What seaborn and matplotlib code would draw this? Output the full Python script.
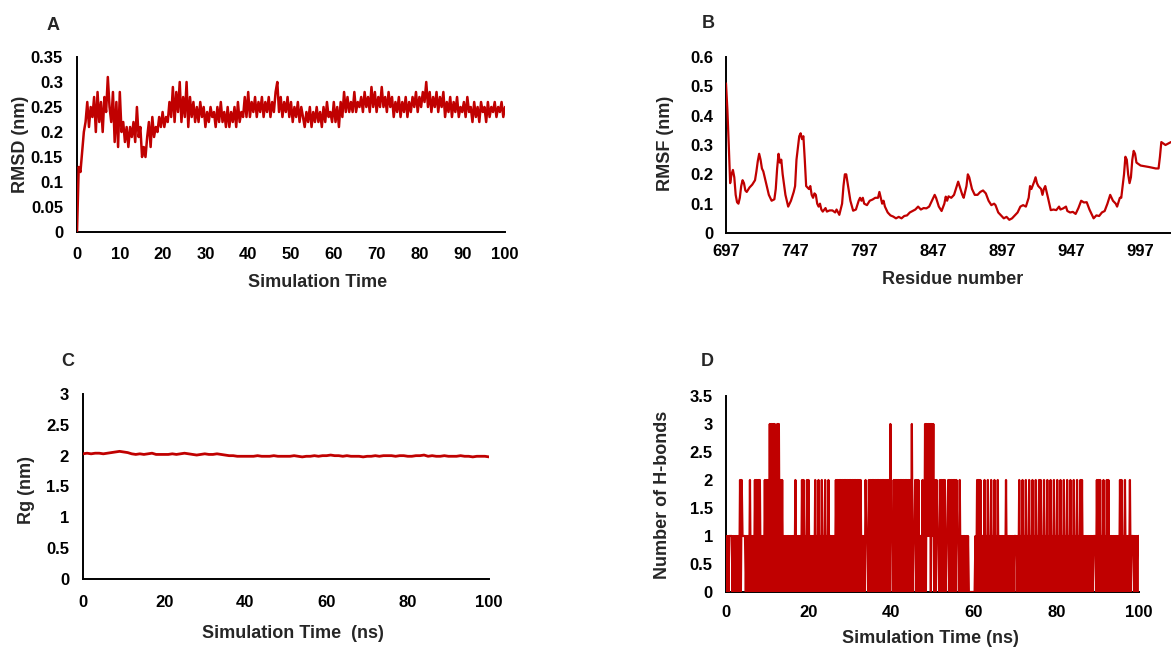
import numpy as np
import matplotlib
matplotlib.use("Agg")
import matplotlib.pyplot as plt
import seaborn as sns

RED = "#C00000"

# --- A: backbone RMSD (nm), one value every 0.4 ns from 0 to 100 ns
rmsd_step = 0.4
rmsd = [
    0.0, 0.13, 0.12, 0.16, 0.2, 0.22, 0.26, 0.21, 0.25, 0.23,
    0.27, 0.2, 0.28, 0.22, 0.26, 0.2, 0.27, 0.24, 0.31, 0.25,
    0.22, 0.28, 0.18, 0.26, 0.17, 0.28, 0.2, 0.22, 0.18, 0.21,
    0.17, 0.21, 0.19, 0.22, 0.18, 0.25, 0.19, 0.21, 0.15, 0.17,
    0.15, 0.19, 0.22, 0.17, 0.23, 0.19, 0.21, 0.2, 0.23, 0.21,
    0.24, 0.21, 0.23, 0.22, 0.26, 0.23, 0.29, 0.22, 0.28, 0.24,
    0.3, 0.22, 0.27, 0.23, 0.3, 0.21, 0.27, 0.23, 0.26, 0.22,
    0.25, 0.22, 0.26, 0.23, 0.25, 0.21, 0.24, 0.22, 0.25, 0.23,
    0.24, 0.21, 0.25, 0.22, 0.26, 0.22, 0.24, 0.21, 0.25, 0.21,
    0.24, 0.22, 0.25, 0.21, 0.26, 0.22, 0.24, 0.23, 0.27, 0.23,
    0.28, 0.23, 0.26, 0.24, 0.27, 0.23, 0.26, 0.24, 0.27, 0.23,
    0.26, 0.24, 0.27, 0.23, 0.26, 0.24, 0.28, 0.3, 0.24, 0.27,
    0.23, 0.26, 0.24, 0.27, 0.23, 0.26, 0.22, 0.25, 0.23, 0.26,
    0.22, 0.25, 0.23, 0.21, 0.24, 0.22, 0.25, 0.21, 0.24, 0.22,
    0.25, 0.22, 0.24, 0.21, 0.25, 0.22, 0.26, 0.23, 0.24, 0.22,
    0.26, 0.22, 0.25, 0.21, 0.26, 0.23, 0.28, 0.24, 0.27, 0.24,
    0.26, 0.24, 0.28, 0.24, 0.26, 0.25, 0.27, 0.24, 0.28, 0.25,
    0.27, 0.24, 0.29, 0.25, 0.28, 0.24, 0.27, 0.25, 0.29, 0.25,
    0.27, 0.24, 0.28, 0.25, 0.27, 0.23, 0.26, 0.24, 0.27, 0.23,
    0.26, 0.24, 0.27, 0.23, 0.26, 0.24, 0.27, 0.25, 0.28, 0.24,
    0.27, 0.25, 0.28, 0.26, 0.3, 0.25, 0.28, 0.24, 0.27, 0.25,
    0.28, 0.24, 0.27, 0.25, 0.28, 0.23, 0.26, 0.24, 0.27, 0.23,
    0.26, 0.24, 0.27, 0.23, 0.25, 0.24, 0.26, 0.23, 0.27, 0.24,
    0.25, 0.22, 0.26, 0.23, 0.25, 0.22, 0.26, 0.24, 0.25, 0.22,
    0.26, 0.23, 0.25, 0.24, 0.26, 0.23, 0.25, 0.24, 0.26, 0.23, 0.25,
]

# --- B: per-residue RMSF (nm)
residues = [
    697, 698, 699, 700, 701, 702, 703, 704, 705, 706,
    707, 708, 709, 710, 711, 712, 714, 716, 718, 719,
    720, 721, 722, 723, 724, 726, 728, 730, 732, 733,
    734, 735, 736, 737, 738, 740, 742, 744, 746, 747,
    748, 749, 750, 751, 752, 753, 754, 755, 757, 758,
    759, 760, 761, 762, 763, 764, 765, 766, 767, 769,
    770, 772, 774, 776, 777, 779, 781, 782, 783, 784,
    785, 787, 789, 791, 793, 794, 795, 796, 797, 799,
    801, 803, 805, 807, 808, 809, 810, 811, 812, 814,
    816, 818, 820, 822, 824, 826, 828, 830, 832, 834,
    836, 838, 840, 842, 844, 846, 848, 849, 851, 853,
    855, 856, 857, 858, 860, 862, 864, 865, 866, 868,
    869, 871, 872, 873, 875, 877, 879, 881, 883, 885,
    887, 889, 891, 892, 894, 896, 898, 900, 902, 904,
    906, 908, 910, 912, 914, 916, 917, 918, 920, 921,
    922, 923, 925, 926, 927, 928, 930, 932, 934, 936,
    938, 939, 941, 943, 944, 946, 948, 950, 952, 954,
    956, 958, 960, 962, 963, 965, 967, 969, 971, 973,
    975, 976, 977, 979, 980, 982, 983, 985, 986, 987,
    988, 989, 990, 991, 992, 993, 994, 997, 1003, 1008,
    1010, 1011, 1012, 1015, 1019,
]
rmsf = [
    0.51, 0.42, 0.30, 0.17, 0.20, 0.215, 0.19, 0.13, 0.105, 0.10,
    0.12, 0.16, 0.18, 0.17, 0.145, 0.14, 0.155, 0.165, 0.18, 0.21,
    0.245, 0.27, 0.25, 0.22, 0.21, 0.17, 0.13, 0.11, 0.115, 0.15,
    0.22, 0.27, 0.24, 0.25, 0.20, 0.13, 0.09, 0.11, 0.14, 0.16,
    0.25, 0.29, 0.33, 0.34, 0.32, 0.33, 0.25, 0.16, 0.15, 0.16,
    0.13, 0.12, 0.135, 0.13, 0.10, 0.09, 0.10, 0.08, 0.073, 0.085,
    0.073, 0.077, 0.077, 0.07, 0.08, 0.062, 0.10, 0.16, 0.20, 0.20,
    0.17, 0.11, 0.076, 0.08, 0.11, 0.12, 0.11, 0.12, 0.10, 0.095,
    0.11, 0.114, 0.12, 0.12, 0.14, 0.12, 0.10, 0.11, 0.09, 0.07,
    0.06, 0.056, 0.05, 0.055, 0.05, 0.058, 0.06, 0.07, 0.075, 0.08,
    0.09, 0.08, 0.085, 0.084, 0.09, 0.11, 0.13, 0.12, 0.09, 0.075,
    0.10, 0.124, 0.11, 0.125, 0.12, 0.13, 0.16, 0.175, 0.16, 0.13,
    0.12, 0.16, 0.20, 0.19, 0.15, 0.13, 0.13, 0.14, 0.145, 0.135,
    0.11, 0.095, 0.10, 0.095, 0.07, 0.06, 0.05, 0.055, 0.045, 0.05,
    0.06, 0.07, 0.09, 0.095, 0.09, 0.12, 0.16, 0.15, 0.175, 0.19,
    0.17, 0.16, 0.15, 0.13, 0.15, 0.16, 0.12, 0.078, 0.08, 0.078,
    0.09, 0.08, 0.084, 0.09, 0.075, 0.07, 0.072, 0.065, 0.085, 0.11,
    0.104, 0.105, 0.08, 0.06, 0.05, 0.06, 0.058, 0.07, 0.075, 0.10,
    0.13, 0.12, 0.11, 0.10, 0.09, 0.12, 0.12, 0.20, 0.26, 0.25,
    0.20, 0.17, 0.19, 0.25, 0.28, 0.27, 0.24, 0.23, 0.225, 0.22,
    0.22, 0.26, 0.31, 0.30, 0.31,
]

# --- C: radius of gyration (nm), one value per ns
rg = [
    2.03, 2.04, 2.03, 2.04, 2.04, 2.03, 2.04, 2.05, 2.06, 2.07, 2.06,
    2.05, 2.03, 2.02, 2.03, 2.02, 2.03, 2.04, 2.02, 2.02, 2.02,
    2.02, 2.03, 2.02, 2.03, 2.04, 2.03, 2.02, 2.01, 2.02, 2.03,
    2.02, 2.02, 2.03, 2.02, 2.01, 2.0, 2.0, 1.99, 1.99, 1.99,
    1.99, 1.99, 2.0, 1.99, 1.99, 1.99, 2.0, 1.99, 1.99, 1.99,
    1.99, 2.0, 1.99, 1.98, 1.99, 1.99, 2.0, 1.99, 2.0, 2.0,
    2.01, 2.0, 2.0, 1.99, 2.0, 1.99, 1.99, 1.99, 1.98, 1.99,
    1.99, 2.0, 1.99, 2.0, 2.0, 2.0, 1.99, 2.0, 2.0, 1.99,
    1.99, 2.0, 2.0, 2.01, 1.99, 2.0, 1.99, 1.99, 2.0, 1.99,
    1.99, 1.99, 2.0, 1.99, 1.99, 1.98, 1.99, 1.99, 1.99, 1.98,
]

# --- D: number of H-bonds, one digit every 0.2 ns (10 per 2 ns block)
hbond_step = 0.2
hbond_blocks = [
    "1010111101", "0101010202", "1111010102", "0101020202", "0201010202",
    "0203030303", "0230302020", "1010101010", "1010201010", "1020201020",
    "2010101020", "1020102010", "2010201101", "0102020202", "0202020202",
    "0202020202", "0202010102", "1102020202", "0202020202", "0202020203",
    "1102020202", "0202020202", "0202030112", "0202011020", "0303131303",
    "1302021102", "0202020112", "0202020202", "1102010101", "0101000000",
    "0010202020", "1102010201", "0201020102", "0101010102", "0101010101",
    "1101020102", "0102010201", "0201020102", "0201020102", "0102010201",
    "0201020102", "0102010201", "0201020102", "0201010101", "0101011102",
    "0202010201", "0202010101", "0101010202", "0102010102", "0111010101",
    "1",
]
hbonds = [int(c) for c in "".join(hbond_blocks)]

rmsd_ticks = [0, 0.05, 0.1, 0.15, 0.2, 0.25, 0.3, 0.35]
rmsf_ticks = [0, 0.1, 0.2, 0.3, 0.4, 0.5, 0.6]
rg_ticks = [0, 0.5, 1, 1.5, 2, 2.5, 3]
hb_ticks = [0, 0.5, 1, 1.5, 2, 2.5, 3, 3.5]
time_ticks_10 = [0, 10, 20, 30, 40, 50, 60, 70, 80, 90, 100]
time_ticks_20 = [0, 20, 40, 60, 80, 100]
residue_ticks = [697, 747, 797, 847, 897, 947, 997]

sns.set_style("white")
plt.rcParams["font.family"] = ["Liberation Sans", "DejaVu Sans"]
plt.rcParams["font.weight"] = "bold"
plt.rcParams["axes.labelweight"] = "bold"

W, H = 1171, 647
fig = plt.figure(figsize=(W / 100, H / 100), dpi=100)


def box(left, top, right, bottom):
    return [left / W, 1 - bottom / H, (right - left) / W, (bottom - top) / H]


def style(ax, xticks, yticks, xpad, ypad):
    ax.set_xticks(xticks)
    ax.set_yticks(yticks)
    ax.set_yticklabels([f"{v:g}" for v in yticks])
    ax.tick_params(axis="both", length=0, labelsize=12, colors="black")
    ax.tick_params(axis="x", pad=xpad)
    ax.tick_params(axis="y", pad=ypad)
    for side in ("top", "right"):
        ax.spines[side].set_visible(False)
    for side in ("left", "bottom"):
        ax.spines[side].set_color("black")
        ax.spines[side].set_linewidth(1.4)
    ax.grid(False)


# Panel A
axA = fig.add_axes(box(77, 57, 505, 232))
t_rmsd = np.arange(len(rmsd)) * rmsd_step
sns.lineplot(x=t_rmsd, y=rmsd, ax=axA, color=RED, linewidth=1.8, estimator=None)
axA.set_xlim(0, 100)
axA.set_ylim(0, 0.35)
style(axA, time_ticks_10, rmsd_ticks, 10.5, 10)
axA.set_xlabel("Simulation Time", fontsize=13, va="center")
axA.set_ylabel("RMSD (nm)", fontsize=13, va="center")
axA.xaxis.set_label_coords(0.561, -0.286)
axA.yaxis.set_label_coords(-0.133, 0.5)

# Panel B
axB = fig.add_axes(box(726, 57, 1171, 233))
sns.lineplot(x=residues, y=rmsf, ax=axB, color=RED, linewidth=1.6, estimator=None)
axB.set_xlim(697, 1019)
axB.set_ylim(0, 0.6)
style(axB, residue_ticks, rmsf_ticks, 8, 9)
axB.set_xlabel("Residue number", fontsize=13, va="center")
axB.set_ylabel("RMSF (nm)", fontsize=13, va="center")
axB.xaxis.set_label_coords(0.510, -0.267)
axB.yaxis.set_label_coords(-0.137, 0.51)

# Panel C
axC = fig.add_axes(box(83, 394, 489, 579))
t_rg = np.arange(len(rg))
sns.lineplot(x=t_rg, y=rg, ax=axC, color=RED, linewidth=2.0, estimator=None)
axC.set_xlim(0, 100)
axC.set_ylim(0, 3)
style(axC, time_ticks_20, rg_ticks, 11.5, 10)
axC.set_xlabel("Simulation Time  (ns)", fontsize=13, va="center")
axC.set_ylabel("Rg (nm)", fontsize=13, va="center")
axC.xaxis.set_label_coords(0.517, -0.292)
axC.yaxis.set_label_coords(-0.140, 0.481)

# Panel D
axD = fig.add_axes(box(726, 396, 1139, 592))
t_hb = np.arange(len(hbonds)) * hbond_step
sns.lineplot(x=t_hb, y=hbonds, ax=axD, color=RED, linewidth=1.6, estimator=None)
axD.set_xlim(0, 100)
axD.set_ylim(0, 3.5)
style(axD, time_ticks_20, hb_ticks, 9.5, 9.5)
axD.set_xlabel("Simulation Time (ns)", fontsize=13, va="center")
axD.set_ylabel("Number of H-bonds", fontsize=13, va="center")
axD.xaxis.set_label_coords(0.494, -0.235)
axD.yaxis.set_label_coords(-0.153, 0.495)

for ax in (axA, axB, axC, axD):
    for ln in ax.lines:
        ln.set_zorder(3)

# panel letters
for letter, px, py in [("A", 53, 25), ("B", 708, 23), ("C", 68, 362), ("D", 707, 362)]:
    fig.text(px / W, 1 - py / H, letter, fontsize=13, fontweight="bold",
             ha="center", va="center")

fig.savefig("out.png", dpi=100)
